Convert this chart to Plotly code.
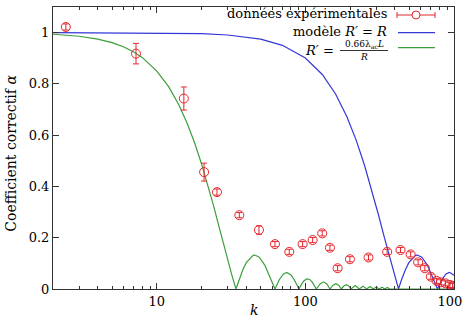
import plotly.graph_objects as go

data_k = [2.44, 7.24, 15.2, 20.8, 25.4, 35.9, 48.7, 62.4, 77.9, 95.8, 111.9, 129.8, 146.3,
          164.8, 199.4, 266, 355, 437, 511, 574, 637, 699, 764, 817, 879, 939, 979]
data_y = [1.022, 0.918, 0.743, 0.456, 0.378, 0.288, 0.230, 0.175, 0.145, 0.175, 0.191, 0.217, 0.161,
          0.081, 0.116, 0.123, 0.145, 0.152, 0.135, 0.104, 0.081, 0.048, 0.032, 0.026, 0.022, 0.016, 0.012]
data_err = [0.012, 0.040, 0.045, 0.035, 0.012, 0.010, 0.016, 0.010, 0.010, 0.010, 0.010, 0.010, 0.010,
            0.010, 0.010, 0.010, 0.010, 0.010, 0.010, 0.010, 0.010, 0.010, 0.010, 0.010, 0.010, 0.010, 0.010]

# Model R' = R (blue)
blue_k = [2, 10, 20, 30, 50, 70, 100, 130, 160, 190, 220, 250, 280, 310, 340, 370, 400, 423.4,
          442, 469.6, 497.2, 552.5, 567.5, 607.7, 663, 718.2, 775.2, 828.7, 884, 930, 939.2, 994.5, 1000]
blue_y = [1.0, 0.999, 0.9959, 0.9908, 0.9745, 0.9505, 0.9011, 0.8367, 0.7598, 0.6732, 0.5799, 0.4826,
          0.3853, 0.2907, 0.2013, 0.1198, 0.0482, 0.0,
          0.033, 0.0731, 0.1027, 0.1310, 0.1323, 0.1241, 0.0922, 0.0473, 0.0, 0.0361, 0.0587, 0.0645,
          0.0643, 0.0545, 0.0530]

# Model R' = 0.66 lambda_ac L / R (green)
green_k = [2, 3, 4, 5, 6, 7, 8, 10, 12, 14, 16, 18, 20, 22, 24, 26, 28, 30, 32, 34.1,
           35.6, 37.8, 40.0, 44.5, 45.7, 48.9, 53.4, 57.8, 62.4,
           66.7, 71.2, 74.9, 80.1, 84.5, 89.0, 90.5,
           93.4, 97.9, 102.3, 106.8, 111.2, 115.7, 118.5,
           125.5, 132.5, 139.5, 146.5, 153.5, 160.5, 167.5, 174.6, 181.5, 188.5, 195.5, 202.5,
           216.5, 230.4, 244.4, 258.4, 272.3, 286.3, 300, 314.3, 328, 342.2, 356, 370, 1000]
green_y = [0.9937, 0.9859, 0.9749, 0.9610, 0.9442, 0.9246, 0.9023, 0.8502, 0.7892, 0.7208, 0.6467,
           0.5686, 0.4878, 0.4072, 0.3279, 0.2514, 0.1793, 0.1132, 0.0538, 0.0,
           0.033, 0.0731, 0.1027, 0.1310, 0.1323, 0.1241, 0.0922, 0.0473, 0.0,
           0.0361, 0.0587, 0.0645, 0.0545, 0.0340, 0.0087, 0.0,
           0.0150, 0.0321, 0.0397, 0.0372, 0.0265, 0.0108, 0.0,
           0.0197, 0.0279, 0.0197, 0.0, 0.0148, 0.0210, 0.0148, 0.0, 0.0117, 0.0165, 0.0117, 0.0,
           0.0134, 0.0, 0.0111, 0.0, 0.0095, 0.0, 0.0081, 0.0, 0.0071, 0.0, 0.0062, 0.0, 0.0]

x_tickvals = [10, 100, 1000]
x_ticktext = ["10", "100", "1000"]
y_tickvals = [0, 0.2, 0.4, 0.6, 0.8, 1.0]
y_ticktext = ["0", "0.2", "0.4", "0.6", "0.8", "1"]

RED = "#e5262b"
BLUE = "#3636d8"
GREEN = "#3a9f3a"
FONT = "DejaVu Serif"

fig = go.Figure()
fig.add_trace(go.Scatter(x=blue_k, y=blue_y, mode="lines", line=dict(color=BLUE, width=1.2)))
fig.add_trace(go.Scatter(x=green_k, y=green_y, mode="lines", line=dict(color=GREEN, width=1.2)))
fig.add_trace(go.Scatter(
    x=data_k, y=data_y, mode="markers",
    marker=dict(symbol="circle-open", size=9, color=RED, line=dict(width=1, color=RED)),
    error_y=dict(type="data", array=data_err, visible=True, color=RED, thickness=1, width=3),
))

minor_vals = [m * d for d in (1, 10, 100) for m in range(2, 10)]

fig.update_layout(
    width=463, height=319,
    margin=dict(l=53, r=9, t=7, b=30),
    plot_bgcolor="white", paper_bgcolor="white",
    showlegend=False,
    font=dict(family=FONT, size=13, color="black"),
    xaxis=dict(
        type="log", range=[0.30103, 3.0004],
        tickvals=x_tickvals, ticktext=x_ticktext,
        tickfont=dict(family=FONT, size=13),
        ticklabeloverflow="allow",
        ticks="inside", ticklen=6, tickcolor="#333", tickwidth=1,
        showline=True, linecolor="#333", linewidth=1, mirror="allticks",
        showgrid=False, zeroline=False, automargin=False,
        minor=dict(tickvals=minor_vals, ticks="inside", ticklen=3, tickcolor="#333", showgrid=False),
    ),
    yaxis=dict(
        range=[0, 1.1],
        tickvals=y_tickvals, ticktext=y_ticktext,
        tickfont=dict(family=FONT, size=13),
        ticks="inside", ticklen=6, tickcolor="#333", tickwidth=1,
        showline=True, linecolor="#333", linewidth=1, mirror="allticks",
        showgrid=False, zeroline=False, automargin=False,
    ),
)

def px_x(p):
    return (p - 53) / 401.0

def px_y(p):
    return (289 - p) / 282.0

# axis titles
fig.add_annotation(text="Coefficient correctif <i>α</i>", xref="paper", yref="paper",
                   x=px_x(11), y=0.48, textangle=-90, showarrow=False,
                   xanchor="center", yanchor="middle", font=dict(family=FONT, size=14))
fig.add_annotation(text="<i>k</i>", xref="paper", yref="paper", x=0.5, y=px_y(310),
                   showarrow=False, xanchor="center", yanchor="middle", font=dict(family=FONT, size=14))

# custom legend (text on the left, sample on the right)
fig.add_annotation(text="données expérimentales", xref="paper", yref="paper",
                   x=px_x(389), y=px_y(14), xanchor="right", yanchor="middle", showarrow=False,
                   font=dict(family=FONT, size=13))
fig.add_annotation(text="modèle <i>R′</i> = <i>R</i>", xref="paper", yref="paper",
                   x=px_x(389), y=px_y(32), xanchor="right", yanchor="middle", showarrow=False,
                   font=dict(family=FONT, size=13))
fig.add_annotation(text="<i>R′</i> =", xref="paper", yref="paper",
                   x=px_x(336), y=px_y(50), xanchor="right", yanchor="middle", showarrow=False,
                   font=dict(family=FONT, size=13))
fig.add_annotation(text="0.66λ<sub>ac</sub><i>L</i>", xref="paper", yref="paper",
                   x=px_x(364), y=px_y(44), xanchor="center", yanchor="middle", showarrow=False,
                   font=dict(family=FONT, size=9))
fig.add_annotation(text="<i>R</i>", xref="paper", yref="paper",
                   x=px_x(364), y=px_y(57), xanchor="center", yanchor="middle", showarrow=False,
                   font=dict(family=FONT, size=9))
fig.add_shape(type="line", xref="paper", yref="paper", x0=px_x(340), x1=px_x(388),
              y0=px_y(50.5), y1=px_y(50.5), line=dict(color="black", width=0.8))

# legend samples
fig.add_shape(type="line", xref="paper", yref="paper", x0=px_x(397), x1=px_x(435),
              y0=px_y(15), y1=px_y(15), line=dict(color=RED, width=1))
for xe in (397, 435):
    fig.add_shape(type="line", xref="paper", yref="paper", x0=px_x(xe), x1=px_x(xe),
                  y0=px_y(12), y1=px_y(18), line=dict(color=RED, width=1))
fig.add_shape(type="circle", xref="paper", yref="paper", x0=px_x(412), x1=px_x(420),
              y0=px_y(19), y1=px_y(11), line=dict(color=RED, width=1), fillcolor="white")
fig.add_shape(type="line", xref="paper", yref="paper", x0=px_x(398), x1=px_x(435),
              y0=px_y(32.7), y1=px_y(32.7), line=dict(color=BLUE, width=1.2))
fig.add_shape(type="line", xref="paper", yref="paper", x0=px_x(398), x1=px_x(435),
              y0=px_y(47.7), y1=px_y(47.7), line=dict(color=GREEN, width=1.2))

fig.write_html("out.html")
